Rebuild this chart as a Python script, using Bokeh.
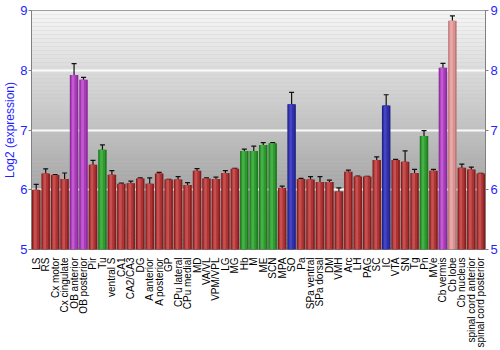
import numpy as np
from bokeh.plotting import figure
from bokeh.models import (ColumnDataSource, Whisker, TeeHead, FixedTicker, LinearAxis,
                          BoxAnnotation, Range1d)
from bokeh.transform import dodge, factor_cmap
from bokeh.embed import file_html
from bokeh.resources import INLINE

regions = ["LS", "RS", "Cx motor", "Cx cingulate", "OB anterior", "OB posterior", "Pir", "Tu",
           "ventral S", "CA1", "CA2/CA3", "DG", "A anterior", "A posterior", "GP", "CPu lateral",
           "CPu medial", "MD", "VA/VL", "VPM/VPL", "LG", "MG", "Hb", "M", "ME", "SCN", "MPA", "SO",
           "Pa", "SPa ventral", "SPa dorsal", "DM", "VMH", "Arc", "LH", "PAG", "SC", "IC", "VTA",
           "SN", "Tg", "Pn", "MVe", "Cb vermis", "Cb lobe", "Cb nucleus",
           "spinal cord anterior", "spinal cord posterior"]

log2_expr = [6.00, 6.27, 6.245, 6.18, 7.92, 7.84, 6.42, 6.67,
             6.25, 6.10, 6.11, 6.19, 6.10, 6.27, 6.17, 6.17,
             6.08, 6.32, 6.19, 6.18, 6.28, 6.35, 6.65, 6.65, 6.75, 6.78, 6.03, 7.43,
             6.18, 6.17, 6.13, 6.13, 5.97, 6.30, 6.22, 6.22, 6.50, 7.41, 6.50,
             6.47, 6.28, 6.90, 6.32, 8.04, 8.83, 6.37,
             6.34, 6.27]

sem = [0.09, 0.08, 0.01, 0.10, 0.19, 0.04, 0.07, 0.08,
       0.07, 0.01, 0.035, 0.01, 0.10, 0.02, 0.005, 0.05,
       0.04, 0.035, 0.01, 0.03, 0.04, 0.01, 0.03, 0.08, 0.04, 0.01, 0.03, 0.20,
       0.01, 0.05, 0.09, 0.03, 0.06, 0.03, 0.01, 0.005, 0.05, 0.18, 0.01,
       0.18, 0.06, 0.09, 0.02, 0.075, 0.08, 0.06,
       0.04, 0.005]

group = ["g0", "g0", "g0", "g0", "g1", "g1", "g0", "g2",
         "g0", "g0", "g0", "g0", "g0", "g0", "g0", "g0",
         "g0", "g0", "g0", "g0", "g0", "g0", "g2", "g2", "g2", "g2", "g0", "g3",
         "g0", "g0", "g0", "g0", "g0", "g0", "g0", "g0", "g0", "g3", "g0",
         "g0", "g0", "g2", "g0", "g1", "g4", "g0",
         "g0", "g0"]

groups = ["g0", "g1", "g2", "g3", "g4"]
edge_pal = ["#851e1e", "#8e2a9c", "#1f7a1f", "#23238a", "#c07878"]
mid_pal = ["#ad3434", "#a83cb8", "#2f982f", "#3030a8", "#d89090"]
hi_pal = ["#c64f4f", "#c25ad0", "#45b045", "#4444c4", "#eaa8a8"]

lo = [v - e for v, e in zip(log2_expr, sem)]
hi = [v + e for v, e in zip(log2_expr, sem)]
src = ColumnDataSource(dict(region=regions, val=log2_expr, lo=lo, hi=hi, group=group))

p = figure(x_range=regions, y_range=Range1d(5, 9), width=500, height=350,
           output_backend="svg", toolbar_location=None,
           min_border_left=27, min_border_right=15, min_border_top=10, min_border_bottom=99)

# background gradient
n = 60
edges = np.linspace(5, 9, n + 1)
for i in range(n):
    t = (i + 0.5) / n
    g = int(round(138 + (246 - 138) * t))
    col = "#%02x%02x%02x" % (g, g, g)
    p.add_layout(BoxAnnotation(bottom=edges[i], top=edges[i + 1], fill_color=col,
                               fill_alpha=1.0, line_color=None, level="image"))

p.background_fill_color = "#c0c0c0"
p.border_fill_color = "white"
p.outline_line_color = "#808080"
p.outline_line_width = 1

p.xgrid.grid_line_color = None
p.ygrid.grid_line_color = "white"
p.ygrid.grid_line_width = 2
p.ygrid.grid_line_alpha = 0.9
p.ygrid.ticker = FixedTicker(ticks=[6, 7, 8])

p.vbar(x="region", top="val", bottom=5, width=0.9, source=src,
       fill_color=factor_cmap("group", edge_pal, groups), line_color=None)
p.vbar(x=dodge("region", -0.03, range=p.x_range), top="val", bottom=5, width=0.62, source=src,
       fill_color=factor_cmap("group", mid_pal, groups), line_color=None)
p.vbar(x=dodge("region", -0.10, range=p.x_range), top="val", bottom=5, width=0.28, source=src,
       fill_color=factor_cmap("group", hi_pal, groups), line_color=None)

w = Whisker(base="region", upper="hi", lower="lo", source=src,
            line_color="#111111", line_width=1.2,
            upper_head=TeeHead(size=5, line_color="#111111", line_width=1.2),
            lower_head=TeeHead(size=5, line_color="#111111", line_width=1.2))
p.add_layout(w)

blue = "#1f1fff"
yticks = FixedTicker(ticks=[5, 6, 7, 8, 9])
ax = p.yaxis[0]
ax.ticker = yticks
ax.axis_label = "Log2 (expression)"
ax.axis_label_text_color = blue
ax.axis_label_text_font = "Liberation Sans"
ax.axis_label_text_font_size = "12px"
ax.axis_label_text_font_style = "normal"
ax.axis_label_standoff = 0
ax.major_label_text_color = blue
ax.major_label_text_font = "Liberation Sans"
ax.major_label_text_font_size = "13px"
ax.major_label_standoff = 1
ax.major_tick_out = 3
ax.major_tick_in = 0
ax.minor_tick_line_color = None
ax.axis_line_color = "#808080"
ax.major_tick_line_color = "#808080"

rax = LinearAxis(ticker=yticks)
rax.major_label_text_color = blue
rax.major_label_text_font = "Liberation Sans"
rax.major_label_text_font_size = "13px"
rax.major_label_standoff = 2
rax.major_tick_out = 3
rax.major_tick_in = 0
rax.minor_tick_line_color = None
rax.axis_line_color = "#808080"
rax.major_tick_line_color = "#808080"
p.add_layout(rax, "right")

xa = p.xaxis[0]
xa.major_label_orientation = np.pi / 2
xa.major_label_text_font = "Liberation Sans"
xa.major_label_text_font_size = "10px"
xa.major_label_text_color = "black"
xa.major_label_standoff = 2
xa.major_tick_line_color = None
xa.axis_line_color = None

open("out.html", "w").write(file_html(p, INLINE))
